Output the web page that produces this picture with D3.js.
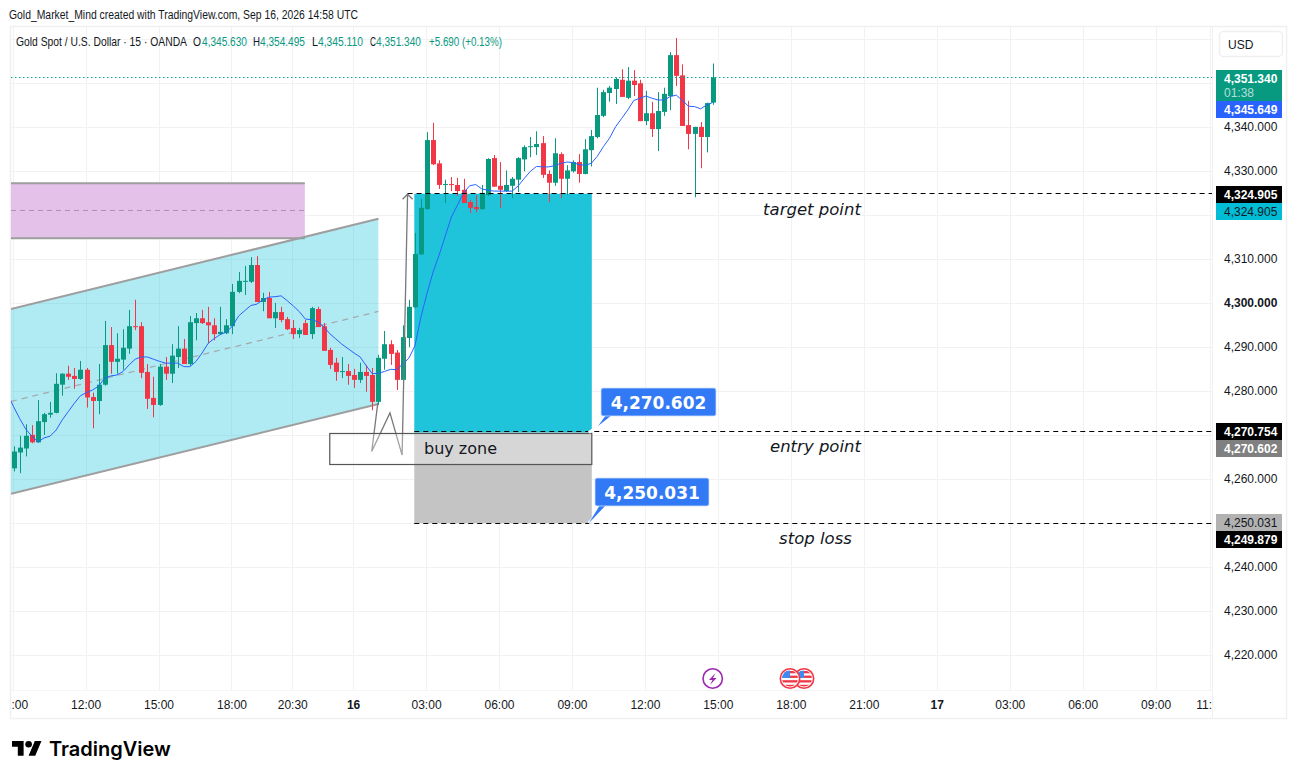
<!DOCTYPE html>
<html>
<head>
<meta charset="utf-8">
<title>XAUUSD 15</title>
<script src="https://cdn.jsdelivr.net/npm/d3@7"></script>
<style>
  body { margin: 0; background: #fff; }
  svg { display: block; }
  text { font-family: "Liberation Sans", sans-serif; }
</style>
</head>
<body>
<svg id="chart" width="1297" height="779"></svg>
<script>
// candles, one value per 15 min bar
var opens = [4262.5,4266.1,4267.0,4270.1,4268.4,4273.0,4274.7,4275.1,4281.5,4284.0,4283.5,4282.8,4284.9,4278.7,4277.8,4281.5,4290.5,4286.7,4287.2,4289.7,4294.8,4294.8,4284.4,4278.5,4276.9,4285.6,4284.0,4287.8,4289.7,4286.2,4295.5,4296.6,4295.7,4295.0,4293.0,4293.2,4294.8,4302.6,4304.9,4304.9,4308.7,4300.3,4301.2,4296.6,4298.0,4296.4,4294.4,4293.0,4295.5,4293.0,4298.7,4294.8,4289.4,4286.5,4284.4,4284.6,4283.7,4282.6,4284.4,4283.7,4277.6,4287.4,4290.7,4288.8,4282.6,4292.1,4299.1,4311.1,4321.4,4337.1,4331.8,4326.9,4327.1,4326.9,4325.8,4323.0,4321.9,4321.4,4324.6,4333.0,4326.7,4325.5,4326.7,4328.1,4332.7,4335.5,4335.5,4336.4,4329.4,4327.4,4333.9,4328.3,4330.0,4332.1,4329.4,4334.8,4337.8,4342.6,4347.8,4348.7,4350.8,4346.7,4350.6,4350.0,4341.4,4343.2,4339.6,4343.5,4347.1,4356.4,4351.8,4340.5,4338.5,4340.1,4337.8,4345.63];
var highs = [4267.5,4269.9,4272.5,4272.3,4278.0,4275.1,4277.6,4284.1,4284.1,4285.8,4285.3,4286.9,4285.3,4279.7,4286.2,4296.0,4294.6,4293.2,4294.1,4298.5,4300.8,4295.7,4286.2,4283.3,4286.2,4287.8,4290.7,4294.8,4291.9,4297.1,4297.8,4298.5,4299.2,4296.6,4299.2,4296.4,4304.4,4307.1,4308.5,4310.5,4310.7,4302.4,4302.6,4300.1,4299.2,4296.9,4296.2,4294.4,4296.2,4299.2,4299.2,4295.5,4289.9,4287.6,4287.8,4286.2,4285.1,4286.5,4286.0,4285.3,4288.3,4293.7,4291.6,4289.4,4295.0,4300.8,4316.0,4323.7,4338.9,4341.0,4332.5,4328.1,4328.7,4328.5,4328.3,4323.5,4324.6,4326.9,4333.0,4333.7,4332.1,4330.2,4328.7,4333.2,4335.9,4337.8,4339.1,4338.0,4330.2,4337.5,4334.3,4331.4,4332.5,4333.9,4337.3,4339.4,4349.0,4348.5,4349.4,4351.3,4353.2,4353.7,4353.0,4350.8,4348.3,4345.8,4348.0,4349.0,4357.1,4360.3,4354.3,4346.0,4340.1,4341.2,4345.6,4354.495];
var lows = [4261.8,4261.4,4265.2,4268.2,4268.3,4270.1,4274.0,4275.0,4279.0,4282.6,4280.6,4282.6,4276.3,4271.6,4274.8,4281.3,4284.0,4284.0,4284.9,4288.5,4293.9,4283.0,4276.0,4274.1,4276.7,4282.6,4281.9,4285.3,4286.2,4285.8,4291.6,4295.3,4290.9,4291.6,4292.8,4293.0,4293.0,4302.3,4301.9,4304.6,4300.3,4298.2,4296.6,4294.4,4295.7,4293.9,4291.9,4292.1,4292.8,4291.9,4294.6,4289.2,4285.1,4282.4,4283.0,4281.5,4280.8,4281.9,4279.9,4275.7,4276.9,4284.9,4286.0,4280.3,4282.4,4290.0,4298.9,4311.0,4321.3,4331.4,4326.0,4322.8,4325.5,4324.4,4322.8,4320.5,4320.7,4321.3,4324.4,4326.5,4321.7,4325.3,4323.9,4325.3,4330.0,4333.2,4333.7,4328.5,4323.0,4326.7,4323.9,4324.6,4329.7,4327.4,4329.3,4331.1,4337.5,4342.3,4345.8,4345.3,4346.9,4346.4,4347.1,4341.4,4340.5,4337.8,4334.6,4342.6,4343.9,4349.4,4340.3,4335.0,4324.1,4330.7,4334.3,4345.11];
var closes = [4266.3,4267.2,4269.9,4268.4,4273.2,4274.8,4275.1,4281.7,4284.0,4283.3,4282.8,4284.9,4278.6,4277.8,4281.5,4290.5,4286.7,4287.4,4289.9,4294.8,4294.6,4284.2,4278.3,4276.9,4285.6,4284.0,4288.1,4289.7,4286.2,4295.7,4296.6,4295.5,4295.0,4293.0,4293.5,4295.0,4302.6,4305.1,4305.1,4308.7,4300.3,4301.2,4296.6,4298.0,4296.2,4294.1,4293.0,4293.9,4292.8,4298.9,4294.6,4289.2,4286.0,4284.4,4284.6,4283.5,4282.6,4284.4,4283.5,4277.6,4287.6,4290.7,4288.5,4282.6,4292.3,4299.2,4311.2,4321.7,4337.1,4331.6,4326.9,4327.1,4326.9,4325.5,4322.8,4321.7,4321.4,4325.1,4332.8,4326.5,4325.8,4326.9,4328.3,4333.0,4335.5,4335.7,4336.2,4329.2,4327.4,4334.1,4328.3,4330.2,4332.1,4329.4,4335.0,4338.0,4342.8,4348.0,4349.0,4351.0,4346.9,4350.6,4349.6,4341.4,4343.2,4339.6,4343.7,4347.6,4356.4,4351.7,4340.3,4338.5,4340.1,4337.8,4345.5,4351.34];

// blue moving average, first value sits one bar before the first candle
var maValues = [4279.4,4276.5,4273.8,4271.4,4269.8,4268.5,4269.4,4269.8,4271.2,4273.5,4275.4,4277.3,4279.0,4279.7,4280.3,4281.2,4283.0,4283.5,4283.7,4284.5,4286.0,4287.3,4287.8,4287.8,4287.3,4286.8,4286.4,4286.4,4286.4,4285.6,4285.6,4286.8,4288.7,4290.9,4292.0,4292.9,4293.5,4294.8,4297.1,4298.3,4299.5,4299.8,4300.8,4301.4,4301.5,4301.7,4300.6,4299.4,4298.1,4296.4,4296.3,4295.8,4294.7,4293.1,4291.9,4290.7,4289.7,4288.7,4287.8,4285.8,4284.0,4284.1,4284.5,4285.0,4284.9,4286.2,4287.5,4290.3,4296.9,4302.3,4307.1,4311.0,4315.3,4319.6,4322.3,4325.1,4326.7,4327.0,4326.0,4325.7,4325.5,4325.5,4325.5,4325.5,4326.7,4328.4,4330.0,4331.1,4331.0,4331.0,4331.3,4331.8,4332.1,4332.0,4331.5,4331.4,4331.8,4333.4,4335.6,4337.5,4340.1,4342.0,4343.9,4346.1,4346.6,4347.1,4346.6,4346.2,4346.2,4347.0,4347.3,4346.1,4344.8,4344.7,4344.2,4345.1,4345.649];

var timeTickBars = [0,12,24,36,46,56,68,80,92,104,116,128,140,152,164,176,188,197];
var timeTickLabels = ["09:00","12:00","15:00","18:00","20:30","16","03:00","06:00","09:00","12:00","15:00","18:00","21:00","17","03:00","06:00","09:00","11:00"];
var boldTimeLabels = ["16","17"];
var priceTicks = [4340,4330,4310,4300,4290,4280,4260,4240,4230,4220];
var gridPrices = [4360,4350,4340,4330,4320,4310,4300,4290,4280,4270,4260,4250,4240,4230,4220];

// levels of the long position
var lastPrice = 4351.34;
var targetPrice = 4324.905;
var entryPrice = 4270.602;
var entryLinePrice = 4270.754;
var stopPrice = 4250.031;

// drawings, in bar / price terms
var supplyBars = [-0.43, 47.9];
var supplyPrices = [4327.3, 4321.1, 4314.8];
var channelBars = [-0.43, 60];
var channelTop = [4298.7, 4319.2];
var channelBottom = [4256.7, 4277.1];
var longBars = [65.9, 95.1];
var zigzagBars = [59.9, 58.9, 61.9, 63.9, 64.8];
var zigzagPrices = [4277.3, 4266.3, 4275.1, 4265.5, 4324.8];
var buyBoxBars = [52, 95.1];
var buyBoxPrices = [4270.5, 4263.5];

var upColor = "#089981", downColor = "#f23645";

// price axis tags, stacked like on the chart
var tagGroups = [
    { at: lastPrice, nudge: 1, tags: [
        { text: "4,351.340", sub: "01:38", bg: "#089981", fg: "#fff" },
        { text: "4,345.649", bg: "#2962ff", fg: "#fff" } ] },
    { at: targetPrice, nudge: 0, tags: [
        { text: "4,324.905", bg: "#000", fg: "#fff" },
        { text: "4,324.905", bg: "#00bcd4", fg: "#131722" } ] },
    { at: entryLinePrice, nudge: -1, tags: [
        { text: "4,270.754", bg: "#000", fg: "#fff" },
        { text: "4,270.602", bg: "#808080", fg: "#fff" } ] },
    { at: stopPrice, nudge: -1, tags: [
        { text: "4,250.031", bg: "#b2b2b2", fg: "#131722" },
        { text: "4,249.879", bg: "#000", fg: "#fff" } ] }
];

var svg = d3.select("#chart");
var paneLeft = 11, paneRight = 1212, paneTop = 27, paneBottom = 690;

var x = d3.scaleLinear().domain([0, 100]).range([13.6, 13.6 + 608]);
var y = d3.scaleLinear().domain([4300, 4200]).range([303.3, 743.3]);

var defs = svg.append("defs");
defs.append("clipPath").attr("id", "paneClip").append("rect")
    .attr("x", paneLeft).attr("y", paneTop)
    .attr("width", paneRight - paneLeft).attr("height", paneBottom - paneTop);
defs.append("clipPath").attr("id", "timeClip").append("rect")
    .attr("x", 12).attr("y", paneBottom)
    .attr("width", paneRight - 12).attr("height", 28);

// frame
svg.append("rect").attr("x", 10.5).attr("y", 26.5).attr("width", 1276).attr("height", 692)
    .attr("fill", "none").attr("stroke", "#f0f0f0").attr("stroke-width", 1.5);
svg.append("line").attr("x1", paneRight + 0.5).attr("x2", paneRight + 0.5).attr("y1", 27).attr("y2", 718).attr("stroke", "#f0f0f0");
svg.append("line").attr("x1", 11).attr("x2", paneRight).attr("y1", paneBottom + 0.5).attr("y2", paneBottom + 0.5).attr("stroke", "#f5f5f5");

var pane = svg.append("g").attr("clip-path", "url(#paneClip)");

// grid
pane.append("g").selectAll("line").data(gridPrices).join("line")
    .attr("x1", paneLeft).attr("x2", paneRight)
    .attr("y1", function(d) { return Math.round(y(d)) + 0.5; })
    .attr("y2", function(d) { return Math.round(y(d)) + 0.5; })
    .attr("stroke", "#f2f2f2");
pane.append("g").selectAll("line").data(timeTickBars).join("line")
    .attr("x1", function(d) { return Math.round(x(d)) - 0.5; })
    .attr("x2", function(d) { return Math.round(x(d)) - 0.5; })
    .attr("y1", paneTop).attr("y2", paneBottom)
    .attr("stroke", "#f2f2f2");

// purple box
pane.append("rect")
    .attr("x", x(supplyBars[0])).attr("width", x(supplyBars[1]) - x(supplyBars[0]))
    .attr("y", y(supplyPrices[0])).attr("height", y(supplyPrices[2]) - y(supplyPrices[0]))
    .attr("fill", "#e1bee7").attr("fill-opacity", 0.95);
supplyPrices.forEach(function(p, i) {
    pane.append("line")
        .attr("x1", x(supplyBars[0])).attr("x2", x(supplyBars[1]))
        .attr("y1", y(p)).attr("y2", y(p))
        .attr("stroke", i == 1 ? "#ad8fb3" : "#9e9e9e")
        .attr("stroke-width", i == 1 ? 1 : 2)
        .attr("stroke-dasharray", i == 1 ? "5,4" : null);
});

// channel
var channelPts = [
    [x(channelBars[0]), y(channelTop[0])], [x(channelBars[1]), y(channelTop[1])],
    [x(channelBars[1]), y(channelBottom[1])], [x(channelBars[0]), y(channelBottom[0])]
];
pane.append("polygon").attr("points", channelPts.join(" ")).attr("fill", "rgba(0,188,212,0.31)");
pane.append("line")
    .attr("x1", channelPts[0][0]).attr("y1", channelPts[0][1])
    .attr("x2", channelPts[1][0]).attr("y2", channelPts[1][1])
    .attr("stroke", "#9e9e9e").attr("stroke-width", 2);
pane.append("line")
    .attr("x1", channelPts[3][0]).attr("y1", channelPts[3][1])
    .attr("x2", channelPts[2][0]).attr("y2", channelPts[2][1])
    .attr("stroke", "#9e9e9e").attr("stroke-width", 2);
pane.append("line")
    .attr("x1", channelPts[0][0]).attr("y1", (channelPts[0][1] + channelPts[3][1]) / 2)
    .attr("x2", channelPts[1][0]).attr("y2", (channelPts[1][1] + channelPts[2][1]) / 2)
    .attr("stroke", "#a3a9ab").attr("stroke-width", 1.2).attr("stroke-dasharray", "6,5");

// long position
pane.append("rect")
    .attr("x", x(longBars[0])).attr("width", x(longBars[1]) - x(longBars[0]))
    .attr("y", y(targetPrice)).attr("height", y(entryPrice) - y(targetPrice))
    .attr("fill", "#1fc4da");
pane.append("rect")
    .attr("x", x(longBars[0])).attr("width", x(longBars[1]) - x(longBars[0]))
    .attr("y", y(entryPrice)).attr("height", y(stopPrice) - y(entryPrice))
    .attr("fill", "#c4c4c4");

// candles
var bars = d3.range(opens.length);
pane.append("g").selectAll("rect").data(bars).join("rect")
    .attr("x", function(i) { return Math.round(x(i)); })
    .attr("width", 1)
    .attr("y", function(i) { return y(highs[i]); })
    .attr("height", function(i) { return y(lows[i]) - y(highs[i]); })
    .attr("fill", function(i) { return closes[i] >= opens[i] ? upColor : downColor; });
pane.append("g").selectAll("rect").data(bars).join("rect")
    .attr("x", function(i) { return Math.round(x(i)) - 2; })
    .attr("width", 5)
    .attr("y", function(i) { return y(Math.max(opens[i], closes[i])); })
    .attr("height", function(i) { return Math.max(1, Math.abs(y(opens[i]) - y(closes[i]))); })
    .attr("fill", function(i) { return closes[i] >= opens[i] ? upColor : downColor; });

// moving average
var maLine = d3.line()
    .x(function(d, i) { return x(i - 1); })
    .y(function(d) { return y(d); });
pane.append("path").datum(maValues).attr("d", maLine)
    .attr("fill", "none").attr("stroke", "#2962ff").attr("stroke-width", 1);

// last price line
pane.append("line")
    .attr("x1", paneLeft).attr("x2", paneRight)
    .attr("y1", Math.round(y(lastPrice)) + 0.5).attr("y2", Math.round(y(lastPrice)) + 0.5)
    .attr("stroke", "#00a88c").attr("stroke-width", 1.2).attr("stroke-dasharray", "1.5,2.5");

// dashed levels
[[64.8, targetPrice], [longBars[0], entryLinePrice], [longBars[0], stopPrice]].forEach(function(l) {
    pane.append("line")
        .attr("x1", x(l[0])).attr("x2", paneRight)
        .attr("y1", Math.floor(y(l[1])) + 0.5).attr("y2", Math.floor(y(l[1])) + 0.5)
        .attr("stroke", "#000").attr("stroke-dasharray", "5,4");
});

// hand drawn arrow
var zigzag = d3.line()
    .x(function(d) { return x(d); })
    .y(function(d, i) { return y(zigzagPrices[i]); });
pane.append("path").datum(zigzagBars).attr("d", zigzag)
    .attr("fill", "none").attr("stroke", "#787878").attr("stroke-width", 1.3);
var tipX = x(zigzagBars[4]), tipY = y(zigzagPrices[4]);
pane.append("path")
    .attr("d", "M" + (tipX - 5) + "," + (tipY + 5) + "L" + tipX + "," + tipY + "L" + (tipX + 5) + "," + (tipY + 5))
    .attr("fill", "none").attr("stroke", "#787878").attr("stroke-width", 1.3);

// buy zone box
pane.append("rect")
    .attr("x", x(buyBoxBars[0])).attr("width", x(buyBoxBars[1]) - x(buyBoxBars[0]))
    .attr("y", Math.round(y(buyBoxPrices[0])) + 0.5).attr("height", Math.round(y(buyBoxPrices[1]) - y(buyBoxPrices[0])))
    .attr("fill", "rgba(255,255,255,0.3)").attr("stroke", "#555").attr("stroke-width", 1.2);
pane.append("text").attr("x", 424).attr("y", 454)
    .style("font-family", "DejaVu Sans").style("font-size", "16px").attr("fill", "#131722")
    .text("buy zone");

// notes
[["target point", 812, 215], ["entry point", 815.5, 452], ["stop loss", 815.5, 544]].forEach(function(n) {
    pane.append("text").attr("x", n[1]).attr("y", n[2]).attr("text-anchor", "middle")
        .style("font-family", "DejaVu Sans").style("font-size", "16.5px").style("font-style", "italic")
        .attr("fill", "#131722").text(n[0]);
});

// blue callouts
function callout(left, top, w, h, label, price, blueReach) {
    var tipx = x(longBars[1]) - 3, tipy = y(price);
    var baseX = left + 11, baseY = top + h;
    var blueX = baseX + (tipx - baseX) * blueReach, blueY = baseY + (tipy - baseY) * blueReach;
    pane.append("line").attr("x1", tipx).attr("y1", tipy).attr("x2", baseX).attr("y2", baseY)
        .attr("stroke", "#fff").attr("stroke-width", 3);
    pane.append("path")
        .attr("d", "M" + (left + 5) + "," + (top + h - 1) + "L" + (left + 11) + "," + (top + h - 1) + "L" + blueX + "," + blueY + "Z")
        .attr("fill", "#3179f5");
    pane.append("rect").attr("x", left).attr("y", top).attr("width", w).attr("height", h).attr("rx", 2)
        .attr("fill", "#3179f5").attr("stroke", "#cfe0fd").attr("stroke-width", 0.8);
    pane.append("text").attr("x", left + w / 2).attr("y", top + h / 2 + 6.5).attr("text-anchor", "middle")
        .style("font-family", "DejaVu Sans").style("font-size", "17px").style("font-weight", "bold")
        .attr("fill", "#fff").text(label);
}
callout(601, 388, 115, 28, "4,270.602", entryPrice, 0.6);
callout(595, 478, 114, 28, "4,250.031", stopPrice, 1);

// event icons
var icons = svg.append("g");
icons.append("circle").attr("cx", 712.7).attr("cy", 678.5).attr("r", 9.7)
    .attr("fill", "#fff").attr("stroke", "#9c27b0").attr("stroke-width", 1.6);
icons.append("path").attr("d", "M715.5,673 L709,680 L712.5,680 L710,685 L716.5,678 L713,678 Z").attr("fill", "#9c27b0");
[804, 790].forEach(function(cx, k) {
    var id = "flag" + k;
    defs.append("clipPath").attr("id", id).append("circle").attr("cx", cx).attr("cy", 678.5).attr("r", 8);
    icons.append("circle").attr("cx", cx).attr("cy", 678.5).attr("r", 9.7)
        .attr("fill", "#fff").attr("stroke", "#f23645").attr("stroke-width", 1.6);
    var flag = icons.append("g").attr("clip-path", "url(#" + id + ")");
    d3.range(4).forEach(function(s) {
        flag.append("rect").attr("x", cx - 9).attr("y", 671 + s * 4.6).attr("width", 18).attr("height", 2.3).attr("fill", "#f23645");
    });
    flag.append("rect").attr("x", cx - 9).attr("y", 670).attr("width", 9).attr("height", 8).attr("fill", "#3d8bf0");
});

// axes
var yAxis = d3.axisRight(y).tickValues(priceTicks).tickSize(0).tickPadding(0).tickFormat(d3.format(",.3f"));
var yG = svg.append("g").attr("transform", "translate(1224,-1)").call(yAxis);
yG.select(".domain").remove();
yG.selectAll("text").attr("fill", "#131722").style("font-size", "12px")
    .style("font-weight", function(d) { return d == 4300 ? "bold" : null; });

var xAxis = d3.axisBottom(x).tickValues(timeTickBars).tickSize(0).tickPadding(10)
    .tickFormat(function(d) { return timeTickLabels[timeTickBars.indexOf(d)]; });
var xG = svg.append("g").attr("clip-path", "url(#timeClip)").append("g")
    .attr("transform", "translate(-1," + paneBottom + ")").call(xAxis);
xG.select(".domain").remove();
xG.selectAll("text").attr("fill", "#131722").style("font-size", "12px")
    .style("font-weight", function(d) {
        return boldTimeLabels.indexOf(timeTickLabels[timeTickBars.indexOf(d)]) > -1 ? "bold" : null;
    });

// price tags
tagGroups.forEach(function(g) {
    var top = Math.round(y(g.at)) - 8 + g.nudge;
    g.tags.forEach(function(t) {
        var h = t.sub ? 31 : 17;
        svg.append("rect").attr("x", 1216).attr("y", top).attr("width", 66).attr("height", h).attr("fill", t.bg);
        svg.append("text").attr("x", 1224).attr("y", top + 13).style("font-size", "12px")
            .style("font-weight", t.fg == "#fff" ? "bold" : null).attr("fill", t.fg).text(t.text);
        if (t.sub) {
            svg.append("text").attr("x", 1224).attr("y", top + 27).style("font-size", "12px")
                .attr("fill", t.fg).attr("fill-opacity", 0.7).text(t.sub);
        }
        top += h;
    });
});

// currency button
svg.append("rect").attr("x", 1219.5).attr("y", 31.5).attr("width", 63).attr("height", 25).attr("rx", 4)
    .attr("fill", "#fff").attr("stroke", "#f0f0f0").attr("stroke-width", 1.5);
svg.append("text").attr("x", 1228).attr("y", 49).style("font-size", "12px").attr("fill", "#131722").text("USD");

// header and legend, squeezed to the narrow look of the original font
function narrowText(str, left, baseline, width, color) {
    var t = svg.append("text").attr("x", left).attr("y", baseline)
        .style("font-size", "12px").attr("fill", color).text(str);
    if (width) t.attr("textLength", width).attr("lengthAdjust", "spacingAndGlyphs");
}
narrowText("Gold_Market_Mind created with TradingView.com, Sep 16, 2026 14:58 UTC", 9, 19, 349, "#131722");
var legendBits = [
    ["Gold Spot / U.S. Dollar · 15 · OANDA", 16, 171, "#131722"],
    ["O", 193, 8, "#131722"], ["4,345.630", 202, 45, upColor],
    ["H", 253, 7, "#131722"], ["4,354.495", 260, 45, upColor],
    ["L", 312, 6, "#131722"], ["4,345.110", 318, 45, upColor],
    ["C", 370, 6, "#131722"], ["4,351.340", 376, 45, upColor],
    ["+5.690 (+0.13%)", 429, 73, upColor]
];
legendBits.forEach(function(b) {
    narrowText(b[0], b[1], 46, b[2], b[3]);
});

// logo
var logo = svg.append("g").attr("transform", "translate(12,737.6) scale(0.83)").attr("fill", "#000");
logo.append("path").attr("d", "M14 22H7V11H0V4h14v18zM28 22h-8l7.5-18h8L28 22z");
logo.append("circle").attr("cx", 20).attr("cy", 8).attr("r", 4);
svg.append("text").attr("x", 49).attr("y", 755.5)
    .style("font-family", "Inter").style("font-size", "20px").style("font-weight", "600").attr("fill", "#000")
    .text("TradingView");
</script>
</body>
</html>
